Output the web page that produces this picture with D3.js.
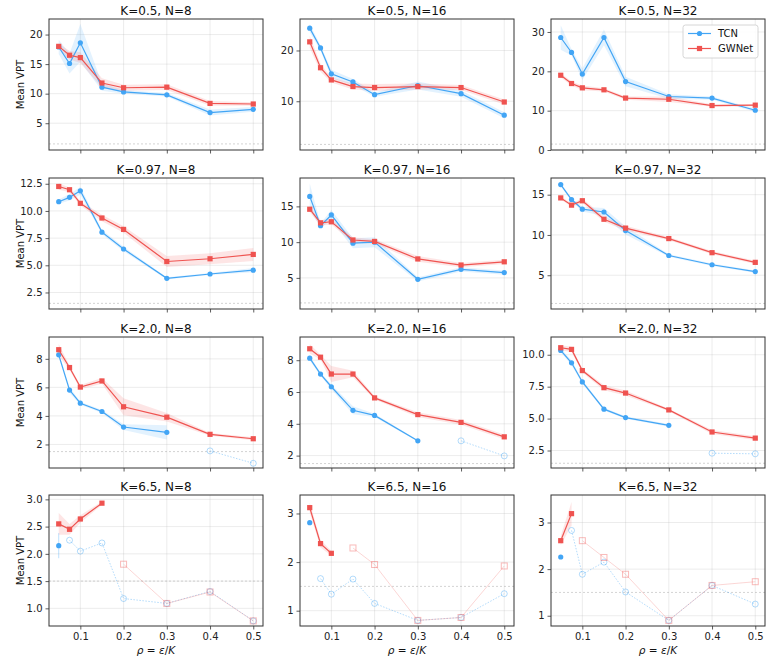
<!DOCTYPE html>
<html>
<head>
<meta charset="utf-8">
<script src="https://cdn.jsdelivr.net/npm/d3@7/dist/d3.min.js"></script>
<style>
  html, body { margin: 0; padding: 0; background: #fff; }
  svg { display: block; font-family: "DejaVu Sans", sans-serif; }
</style>
</head>
<body>
<svg id="chart" width="771" height="663"></svg>
<script>
// ---------------- DATA ----------------
const rhoValues = [0.05, 0.075, 0.1, 0.15, 0.2, 0.3, 0.4, 0.5];
const kLabels = ["0.5", "0.97", "2.0", "6.5"];
const nLabels = [8, 16, 32];
const seriesNames = ["TCN", "GWNet"];
const xTickValues = [0.1, 0.2, 0.3, 0.4, 0.5];
const threshold = 1.5;

// TCN mean VPT, one list per N (8, 16, 32)
const tcnK05 = [[17.9, 15.1, 18.6, 11.1, 10.3, 9.8, 6.8, 7.35],
                [24.4, 20.5, 15.4, 13.8, 11.3, 13.1, 11.5, 7.25],
                [28.6, 24.8, 19.3, 28.6, 17.4, 13.6, 13.2, 10.1]];
const tcnK097 = [[10.85, 11.25, 11.85, 8.05, 6.5, 3.8, 4.2, 4.55],
                 [16.4, 12.3, 13.8, 9.85, 10.0, 4.8, 6.2, 5.75],
                 [16.25, 14.4, 13.2, 12.85, 10.55, 7.45, 6.3, 5.45]];
const tcnK2 = [[8.28, 5.81, 4.89, 4.31, 3.22, 2.85, 1.55, 0.68],
               [8.13, 7.13, 6.33, 4.85, 4.53, 2.93, 2.93, 1.98],
               [10.34, 9.37, 7.87, 5.74, 5.08, 4.47, 2.29, 2.24]];
const tcnK65 = [[2.15, 2.25, 2.05, 2.2, 1.18, 1.09, 1.31, 0.77],
                [2.81, 1.66, 1.34, 1.65, 1.15, 0.80, 0.86, 1.35],
                [2.26, 2.83, 1.89, 2.15, 1.51, 0.90, 1.65, 1.25]];

// GWNet mean VPT
const gwK05 = [[18.0, 16.5, 16.1, 11.8, 11.0, 11.1, 8.35, 8.25],
               [21.7, 16.6, 14.2, 12.9, 12.7, 12.9, 12.7, 9.85],
               [19.0, 16.9, 15.8, 15.3, 13.2, 12.9, 11.3, 11.4]];
const gwK097 = [[12.25, 11.95, 10.7, 9.35, 8.3, 5.35, 5.6, 6.0],
                [14.6, 12.7, 12.85, 10.3, 10.1, 7.65, 6.8, 7.25],
                [14.6, 13.7, 14.25, 11.95, 10.85, 9.55, 7.8, 6.6]];
const gwK2 = [[8.64, 7.39, 6.02, 6.45, 4.64, 3.91, 2.71, 2.4],
              [8.72, 8.19, 7.13, 7.13, 5.63, 4.58, 4.09, 3.18],
              [10.55, 10.42, 8.76, 7.42, 7.0, 5.68, 3.95, 3.47]];
const gwK65 = [[2.55, 2.45, 2.64, 2.93, 1.81, 1.09, 1.30, 0.77],
               [3.12, 2.38, 2.18, 2.29, 1.95, 0.80, 0.86, 1.92],
               [2.61, 3.19, 2.61, 2.25, 1.89, 0.90, 1.65, 1.73]];

// Band half-widths
const tcnErrK05 = [[1.2, 1.7, 3.2, 0.6, 0.3, 0.3, 0.5, 0.4],
                   [0.8, 0.5, 0.8, 0.6, 0.4, 0.8, 0.6, 0.6],
                   [3.1, 0.8, 1.5, 2.0, 1.2, 0.6, 0.4, 0.4]];
const tcnErrK097 = [[0.2, 0.3, 0.35, 0.2, 0.2, 0.1, 0.1, 0.2],
                    [1.8, 0.3, 0.7, 0.7, 0.7, 0.3, 0.3, 0.3],
                    [0.2, 0.2, 0.3, 0.5, 0.5, 0.15, 0.15, 0.15]];
const tcnErrK2 = [[0.15, 0.2, 0.1, 0.1, 0.2, 0.5, 0, 0],
                  [0.15, 0.1, 0.15, 0.25, 0.1, 0.05, 0, 0],
                  [0.15, 0.2, 0.15, 0.1, 0.1, 0.1, 0, 0]];
const tcnErrK65 = [[0.23, 0, 0, 0, 0, 0, 0, 0],
                   [0, 0, 0, 0, 0, 0, 0, 0],
                   [0, 0, 0, 0, 0, 0, 0, 0]];
const gwErrK05 = [[0.5, 0.7, 0.9, 0.8, 0.5, 0.5, 0.4, 0.3],
                  [1.2, 0.8, 0.5, 0.6, 0.7, 0.6, 0.5, 0.5],
                  [0.6, 0.5, 0.6, 0.4, 0.4, 0.7, 0.3, 0.3]];
const gwErrK097 = [[0.3, 0.2, 0.2, 0.3, 0.3, 0.5, 0.5, 0.6],
                   [0.4, 0.4, 0.4, 0.4, 0.3, 0.4, 0.3, 0.3],
                   [0.2, 0.2, 0.3, 0.3, 0.3, 0.2, 0.2, 0.2]];
const gwErrK2 = [[0.4, 0.15, 0.15, 0.2, 0.6, 0.3, 0.1, 0.1],
                 [0.3, 0.15, 0.5, 0.2, 0.1, 0.15, 0.15, 0.15],
                 [0.2, 0.2, 0.15, 0.2, 0.2, 0.1, 0.15, 0.15]];
const gwErrK65 = [[0.2, 0.1, 0.07, 0.03, 0, 0, 0, 0],
                  [0.1, 0.08, 0.05, 0, 0, 0, 0, 0],
                  [0.1, 0.25, 0, 0, 0, 0, 0, 0]];

// 1 = reliable (solid), 0 = unreliable (faded, hollow)
const tcnValidK2 = [[1, 1, 1, 1, 1, 1, 0, 0], [1, 1, 1, 1, 1, 1, 0, 0], [1, 1, 1, 1, 1, 1, 0, 0]];
const tcnValidK65 = [[1, 0, 0, 0, 0, 0, 0, 0], [1, 0, 0, 0, 0, 0, 0, 0], [1, 0, 0, 0, 0, 0, 0, 0]];
const gwValidK65 = [[1, 1, 1, 1, 0, 0, 0, 0], [1, 1, 1, 0, 0, 0, 0, 0], [1, 1, 0, 0, 0, 0, 0, 0]];
const allValid = [[1, 1, 1, 1, 1, 1, 1, 1], [1, 1, 1, 1, 1, 1, 1, 1], [1, 1, 1, 1, 1, 1, 1, 1]];

// Y limits and ticks per panel (row = K, col = N)
const yLimits = [
  [[0.47, 22.63], [0.4, 26.2], [0, 33.3]],
  [[0.98, 13.03], [0.65, 18.97], [0.81, 17.07]],
  [[0.35, 9.53], [1.22, 9.46], [1.13, 11.39]],
  [[0.676, 3.08], [0.685, 3.38], [0.78, 3.59]]
];
const yTickValues = [
  [[5, 10, 15, 20], [10, 20], [0, 10, 20, 30]],
  [[2.5, 5, 7.5, 10, 12.5], [5, 10, 15], [5, 10, 15]],
  [[2, 4, 6, 8], [2, 4, 6, 8], [2.5, 5, 7.5, 10]],
  [[1, 1.5, 2, 2.5, 3], [1, 2, 3], [1, 2, 3]]
];
const yTickFormats = [
  ["d", "d", "d"],
  [".1f", "d", "d"],
  ["d", "d", ".1f"],
  [".1f", "d", "d"]
];

// ---------------- BUILD ----------------
const tcnRows = [tcnK05, tcnK097, tcnK2, tcnK65];
const gwRows = [gwK05, gwK097, gwK2, gwK65];
const tcnErrRows = [tcnErrK05, tcnErrK097, tcnErrK2, tcnErrK65];
const gwErrRows = [gwErrK05, gwErrK097, gwErrK2, gwErrK65];
const tcnValidRows = [allValid, allValid, tcnValidK2, tcnValidK65];
const gwValidRows = [allValid, allValid, allValid, gwValidK65];

const colors = { TCN: "#42a5f5", GWNet: "#ef5350" };

const svg = d3.select("#chart");
const plotLefts = [49, 300, 551];
const plotTops = [19, 178, 337, 495];
const plotW = 214, plotH = 131;

function makePoints(means, errs, valid) {
  return rhoValues.map((x, i) => ({ x, y: means[i], e: errs[i], ok: valid[i] === 1, i }));
}

kLabels.forEach((K, r) => {
  nLabels.forEach((N, c) => {
    const g = svg.append("g").attr("transform", `translate(${plotLefts[c]},${plotTops[r]})`);
    const x = d3.scaleLinear().domain([0.0275, 0.5225]).range([0, plotW]);
    const y = d3.scaleLinear().domain(yLimits[r][c]).range([plotH, 0]);

    const clipId = `clip-${r}-${c}`;
    g.append("clipPath").attr("id", clipId).append("rect").attr("width", plotW).attr("height", plotH);

    // grid
    const grid = g.append("g");
    grid.selectAll("line.vx").data(xTickValues).join("line")
      .attr("x1", d => x(d)).attr("x2", d => x(d)).attr("y1", 0).attr("y2", plotH)
      .attr("stroke", "#b0b0b0").attr("stroke-opacity", 0.3).attr("stroke-width", 0.8);
    grid.selectAll("line.hy").data(yTickValues[r][c]).join("line")
      .attr("y1", d => y(d)).attr("y2", d => y(d)).attr("x1", 0).attr("x2", plotW)
      .attr("stroke", "#b0b0b0").attr("stroke-opacity", 0.3).attr("stroke-width", 0.8);

    const body = g.append("g").attr("clip-path", `url(#${clipId})`);

    // threshold
    body.append("line")
      .attr("x1", 0).attr("x2", plotW).attr("y1", y(threshold)).attr("y2", y(threshold))
      .attr("stroke", "#999").attr("stroke-opacity", 0.55).attr("stroke-width", 0.8)
      .attr("stroke-dasharray", "2,2");

    const series = [
      { name: "TCN", pts: makePoints(tcnRows[r][c], tcnErrRows[r][c], tcnValidRows[r][c]), shape: "circle", fadedDash: "1.5,1.5" },
      { name: "GWNet", pts: makePoints(gwRows[r][c], gwErrRows[r][c], gwValidRows[r][c]), shape: "square", fadedDash: null }
    ];

    // bands
    series.forEach(s => {
      const col = colors[s.name];
      const area = d3.area().defined(d => d.ok)
        .x(d => x(d.x)).y0(d => y(d.y - d.e)).y1(d => y(d.y + d.e));
      body.append("path").datum(s.pts).attr("d", area)
        .attr("fill", col).attr("fill-opacity", 0.15).attr("stroke", "none");
      s.pts.forEach((d, i) => {
        const prevOk = i > 0 && s.pts[i - 1].ok;
        const nextOk = i < s.pts.length - 1 && s.pts[i + 1].ok;
        if (d.ok && !prevOk && !nextOk && d.e > 0) {
          body.append("line").attr("x1", x(d.x)).attr("x2", x(d.x))
            .attr("y1", y(d.y - d.e)).attr("y2", y(d.y + d.e))
            .attr("stroke", col).attr("stroke-opacity", 0.35).attr("stroke-width", 1);
        }
      });
    });

    // faded lines and markers
    series.forEach(s => {
      const col = colors[s.name];
      const line = d3.line().defined(d => !d.ok).x(d => x(d.x)).y(d => y(d.y));
      const p = body.append("path").datum(s.pts).attr("d", line)
        .attr("fill", "none").attr("stroke", col)
        .attr("stroke-opacity", s.fadedDash ? 0.4 : 0.3)
        .attr("stroke-width", s.fadedDash ? 1 : 0.8);
      if (s.fadedDash) p.attr("stroke-dasharray", s.fadedDash);
      const faded = s.pts.filter(d => !d.ok);
      if (s.shape === "circle") {
        body.selectAll(null).data(faded).join("circle")
          .attr("cx", d => x(d.x)).attr("cy", d => y(d.y)).attr("r", 3)
          .attr("fill", "none").attr("stroke", col).attr("stroke-opacity", 0.4).attr("stroke-width", 1);
      } else {
        body.selectAll(null).data(faded).join("rect")
          .attr("x", d => x(d.x) - 3).attr("y", d => y(d.y) - 3).attr("width", 6).attr("height", 6)
          .attr("fill", "none").attr("stroke", col).attr("stroke-opacity", 0.4).attr("stroke-width", 1);
      }
    });

    // solid lines and markers
    series.forEach(s => {
      const col = colors[s.name];
      const line = d3.line().defined(d => d.ok).x(d => x(d.x)).y(d => y(d.y));
      body.append("path").datum(s.pts).attr("d", line)
        .attr("fill", "none").attr("stroke", col).attr("stroke-width", 1.2);
      const solid = s.pts.filter(d => d.ok);
      if (s.shape === "circle") {
        body.selectAll(null).data(solid).join("circle")
          .attr("cx", d => x(d.x)).attr("cy", d => y(d.y)).attr("r", 2.6).attr("fill", col);
      } else {
        body.selectAll(null).data(solid).join("rect")
          .attr("x", d => x(d.x) - 2.6).attr("y", d => y(d.y) - 2.6).attr("width", 5.2).attr("height", 5.2)
          .attr("fill", col);
      }
    });

    // axes
    const xAxis = d3.axisBottom(x).tickValues(xTickValues).tickSize(3.5).tickPadding(3)
      .tickFormat(r === 3 ? d3.format(".1f") : () => "");
    const gx = g.append("g").attr("transform", `translate(0,${plotH})`).call(xAxis);
    const yAxis = d3.axisLeft(y).tickValues(yTickValues[r][c]).tickSize(3.5).tickPadding(3)
      .tickFormat(d3.format(yTickFormats[r][c]));
    const gy = g.append("g").call(yAxis);
    [gx, gy].forEach(a => {
      a.select(".domain").remove();
      a.selectAll(".tick line").attr("stroke", "#333").attr("stroke-width", 0.8);
      a.selectAll(".tick text").attr("fill", "#222").style("font-size", "10px")
        .style("font-family", "DejaVu Sans, sans-serif");
    });

    // frame
    g.append("rect").attr("width", plotW).attr("height", plotH)
      .attr("fill", "none").attr("stroke", "#333").attr("stroke-width", 1);

    // title
    g.append("text").attr("x", plotW / 2).attr("y", -4.5).attr("text-anchor", "middle")
      .style("font-size", "12px").attr("fill", "#111").text(`K=${K}, N=${N}`);

    if (c === 0) {
      g.append("text").attr("transform", `translate(${-25},${plotH / 2}) rotate(-90)`)
        .attr("text-anchor", "middle").style("font-size", "10px").attr("fill", "#111")
        .text("Mean VPT");
    }
    if (r === 3) {
      const t = g.append("text").attr("x", plotW / 2).attr("y", plotH + 27.5)
        .attr("text-anchor", "middle").style("font-size", "10.5px").attr("fill", "#111");
      t.append("tspan").style("font-style", "italic").text("ρ");
      t.append("tspan").text(" = ");
      t.append("tspan").style("font-style", "italic").text("ε");
      t.append("tspan").text("/");
      t.append("tspan").style("font-style", "italic").text("K");
    }

    // legend
    if (r === 0 && c === 2) {
      const lg = g.append("g").attr("transform", `translate(${132},${6})`);
      lg.append("rect").attr("width", 75).attr("height", 33).attr("rx", 2.5)
        .attr("fill", "#fff").attr("fill-opacity", 0.85).attr("stroke", "#ccc").attr("stroke-width", 0.8);
      seriesNames.forEach((nm, i) => {
        const yy = 8.5 + i * 15;
        const col = colors[nm];
        lg.append("line").attr("x1", 5).attr("x2", 28).attr("y1", yy).attr("y2", yy)
          .attr("stroke", col).attr("stroke-width", 1.2);
        if (i === 0) {
          lg.append("circle").attr("cx", 16.5).attr("cy", yy).attr("r", 2.6).attr("fill", col);
        } else {
          lg.append("rect").attr("x", 16.5 - 2.6).attr("y", yy - 2.6).attr("width", 5.2).attr("height", 5.2).attr("fill", col);
        }
        lg.append("text").attr("x", 35).attr("y", yy + 3.6).style("font-size", "10px")
          .attr("fill", "#111").text(nm);
      });
    }
  });
});
</script>
</body>
</html>
